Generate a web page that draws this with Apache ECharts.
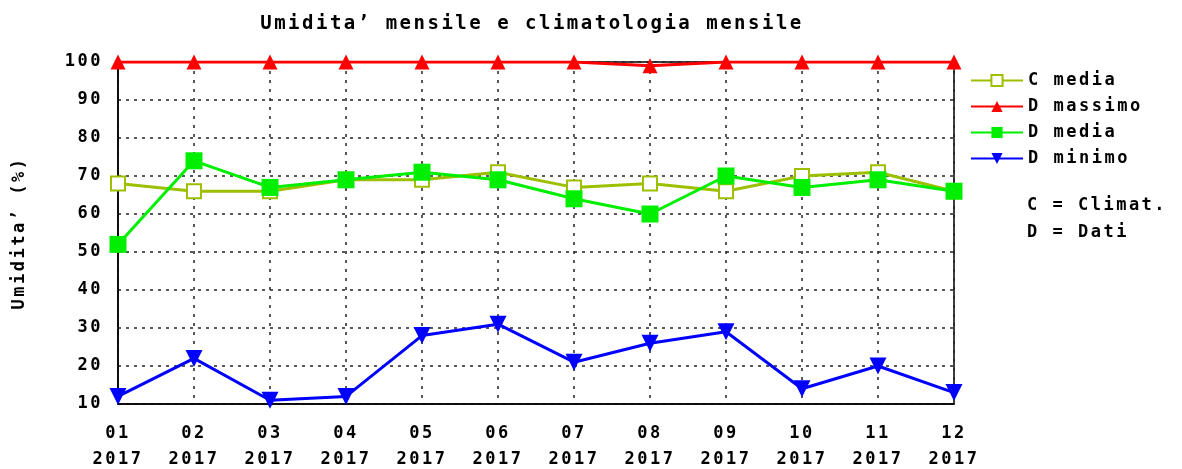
<!DOCTYPE html>
<html>
<head>
<meta charset="utf-8">
<script src="https://cdn.jsdelivr.net/npm/echarts@6/dist/echarts.min.js"></script>
<style>
  html, body { margin: 0; padding: 0; background: #fff; }
  #main { width: 1182px; height: 469px; }
</style>
</head>
<body>
<div id="main"></div>
<script>
// mesi (asse x)
const mesi = ['01\n2017', '02\n2017', '03\n2017', '04\n2017', '05\n2017', '06\n2017',
  '07\n2017', '08\n2017', '09\n2017', '10\n2017', '11\n2017', '12\n2017']

// valori
const climMedia = [68, 66, 66, 69, 69, 71, 67, 68, 66, 70, 71, 66]
const datiMassimo = [100, 100, 100, 100, 100, 100, 100, 99, 100, 100, 100, 100]
const datiMedia = [52, 74, 67, 69, 71, 69, 64, 60, 70, 67, 69, 66]
const datiMinimo = [12, 22, 11, 12, 28, 31, 21, 26, 29, 14, 20, 13]

const font = 'DejaVu Sans Mono'

// il font originale e' piu' largo: un po' di spaziatura tra le lettere
const origFillText = CanvasRenderingContext2D.prototype.fillText
CanvasRenderingContext2D.prototype.fillText = function (...args) {
  this.letterSpacing = '2.5px'
  return origFillText.apply(this, args)
}

const chartBox = echarts.init(document.getElementById('main'))
const option = {
  backgroundColor: '#fff',
  animation: false,
  title: {
    text: 'Umidita\u2019 mensile e climatologia mensile',
    left: 527,
    top: 10,
    textAlign: 'center',
    textStyle: { fontFamily: font, fontWeight: 'bold', fontSize: 19, color: '#000' }
  },
  grid: {
    left: 118,
    right: 228,
    top: 62,
    bottom: 65,
    outerBoundsMode: 'none',
    containLabel: false,
    show: true,
    borderColor: '#000',
    borderWidth: 1.5
  },
  legend: {
    orient: 'vertical',
    left: 965,
    top: 67,
    itemWidth: 52,
    itemHeight: 14,
    itemGap: 9,
    textStyle: { fontFamily: font, fontWeight: 'bold', fontSize: 17, color: '#000' },
    data: ['C media', 'D massimo', 'D media', 'D minimo']
  },
  graphic: [
    {
      type: 'text', left: 1027, top: 197,
      style: { text: 'C = Climat.', font: 'bold 17px ' + font, fill: '#000' }
    },
    {
      type: 'text', left: 1027, top: 224,
      style: { text: 'D = Dati', font: 'bold 17px ' + font, fill: '#000' }
    }
  ],
  xAxis: {
    type: 'category',
    boundaryGap: false,
    data: mesi,
    axisLine: { lineStyle: { color: '#000', width: 1.5 } },
    axisTick: { show: false },
    axisLabel: {
      margin: 17,
      lineHeight: 26,
      fontFamily: font, fontWeight: 'bold', fontSize: 17, color: '#000'
    },
    splitLine: { show: true, lineStyle: { color: '#222', type: [3, 6], width: 1.5 } }
  },
  yAxis: {
    type: 'value',
    min: 10,
    max: 100,
    interval: 10,
    name: 'Umidita\u2019 (%)',
    nameLocation: 'middle',
    nameGap: 90,
    nameTextStyle: { fontFamily: font, fontWeight: 'bold', fontSize: 17, color: '#000' },
    axisLine: { show: true, lineStyle: { color: '#000', width: 1.5 } },
    axisTick: { show: false },
    axisLabel: { margin: 15, fontFamily: font, fontWeight: 'bold', fontSize: 17, color: '#000' },
    splitLine: { show: true, lineStyle: { color: '#222', type: [3, 5], width: 1.5 } }
  },
  series: [
    {
      name: 'C media',
      type: 'line',
      data: climMedia,
      symbol: 'emptyRect',
      symbolSize: 14,
      color: '#9cbf00',
      lineStyle: { width: 3 },
      itemStyle: { borderWidth: 2 }
    },
    {
      name: 'D massimo',
      type: 'line',
      data: datiMassimo,
      symbol: 'triangle',
      symbolSize: 15,
      color: '#ff0000',
      lineStyle: { width: 3 }
    },
    {
      name: 'D media',
      type: 'line',
      data: datiMedia,
      symbol: 'rect',
      symbolSize: 17,
      color: '#00ee00',
      lineStyle: { width: 3 }
    },
    {
      name: 'D minimo',
      type: 'line',
      data: datiMinimo,
      symbol: 'triangle',
      symbolRotate: 180,
      symbolSize: 17,
      color: '#0000ff',
      lineStyle: { width: 3 }
    }
  ]
}
chartBox.setOption(option)
</script>
</body>
</html>
